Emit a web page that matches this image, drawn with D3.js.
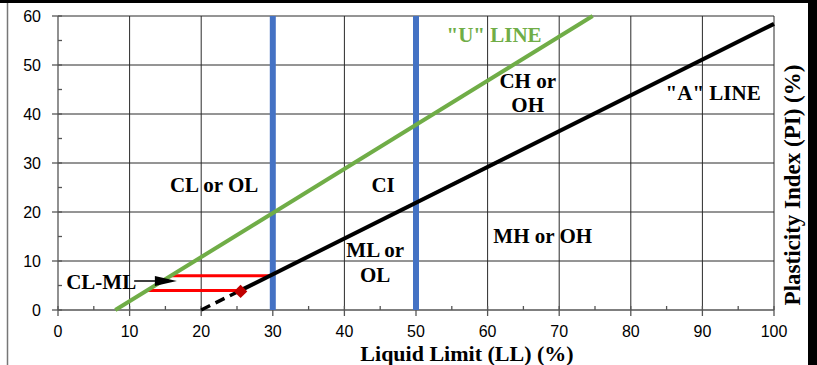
<!DOCTYPE html>
<html>
<head>
<meta charset="utf-8">
<script src="https://cdn.jsdelivr.net/npm/d3@7/dist/d3.min.js"></script>
<style>
  html, body { margin: 0; padding: 0; background: #fff; }
  svg { display: block; }
  .tick-label { font-family: "Liberation Sans", Arial, sans-serif; font-size: 16px; fill: #000; }
  .zone { font-family: "Liberation Serif", "Times New Roman", serif; font-weight: bold; font-size: 21px; fill: #000; }
  .title { font-family: "Liberation Serif", "Times New Roman", serif; font-weight: bold; font-size: 23px; fill: #000; }
</style>
</head>
<body>
<svg id="chart" width="817" height="365"></svg>
<script>
// plasticity chart data (LL %, PI %)
const xTicks = [0, 10, 20, 30, 40, 50, 60, 70, 80, 90, 100];
const yTicks = [0, 10, 20, 30, 40, 50, 60];
const xMinor = [5, 15, 25, 35, 45, 55, 65, 75, 85, 95];
const yMinor = [5, 15, 25, 35, 45, 55];

const uLine = [[8, 0], [74.67, 60]];
const aLineSolid = [[25.5, 4.0], [100, 58.4]];
const aLineDashed = [[20, 0], [25.5, 4.0]];
const limitLL = [30, 50];
// CL-ML band borders: [LL start, LL end, PI]
const clmlBand = [[15.8, 29.6, 7], [12.4, 25.0, 4]];
const samplePoint = [[25.5, 3.8]];

const zoneLabels = [
  { text: "CL or OL", ll: 21.8, pi: 24.1 },
  { text: "CI", ll: 45.4, pi: 24.1 },
  { text: "ML or", ll: 44.3, pi: 10.8 },
  { text: "OL", ll: 44.3, pi: 5.7 },
  { text: "MH or OH", ll: 67.7, pi: 13.7 },
  { text: "CH or", ll: 65.6, pi: 45.3 },
  { text: "OH", ll: 65.6, pi: 40.4 },
  { text: "\"A\" LINE", ll: 91.5, pi: 42.9 }
];
const uLabel = { text: "\"U\" LINE", ll: 60.9, pi: 54.7 };
const clmlArrow = { text: "CL-ML", from: [11.2, 5.9], to: [16.6, 5.9] };

const svg = d3.select("#chart");
const W = 817, H = 365;

const x = d3.scaleLinear().domain([0, 100]).range([58, 774]);
const y = d3.scaleLinear().domain([0, 60]).range([310, 16]);

// frame of the pasted figure
svg.append("rect").attr("x", 0).attr("y", 0).attr("width", W).attr("height", H).attr("fill", "#fff");
svg.append("line").attr("x1", 7.5).attr("x2", 7.5).attr("y1", 0).attr("y2", H)
  .attr("stroke", "#777").attr("stroke-width", 1.5);
svg.append("rect").attr("x", 0).attr("y", 0).attr("width", W).attr("height", 3).attr("fill", "#000");
svg.append("rect").attr("x", 808).attr("y", 0).attr("width", 9).attr("height", H).attr("fill", "#000");

// gridlines
const grid = svg.append("g").attr("stroke", "#2a2a2a").attr("stroke-width", 1);
grid.selectAll(".gx").data(xTicks.slice(1)).join("line")
  .attr("x1", d => x(d)).attr("x2", d => x(d)).attr("y1", y(0)).attr("y2", y(60));
grid.selectAll(".gy").data(yTicks.slice(1)).join("line")
  .attr("x1", x(0)).attr("x2", x(100)).attr("y1", d => y(d)).attr("y2", d => y(d));

// axes
const axisG = svg.append("g").attr("stroke", "#555").attr("stroke-width", 1.3);
axisG.append("line").attr("x1", x(0)).attr("x2", x(0)).attr("y1", y(0)).attr("y2", y(60));
axisG.append("line").attr("x1", x(0)).attr("x2", x(100)).attr("y1", y(0)).attr("y2", y(0));
axisG.selectAll(".ty").data(yTicks).join("line")
  .attr("x1", x(0) - 6).attr("x2", x(0) + 4).attr("y1", d => y(d)).attr("y2", d => y(d));
axisG.selectAll(".tym").data(yMinor).join("line")
  .attr("x1", x(0)).attr("x2", x(0) + 4).attr("y1", d => y(d)).attr("y2", d => y(d));
axisG.selectAll(".tx").data(xTicks).join("line")
  .attr("x1", d => x(d)).attr("x2", d => x(d)).attr("y1", y(0) - 4).attr("y2", y(0) + 6);
axisG.selectAll(".txm").data(xMinor).join("line")
  .attr("x1", d => x(d)).attr("x2", d => x(d)).attr("y1", y(0) - 4).attr("y2", y(0));

svg.selectAll(".xl").data(xTicks).join("text").attr("class", "tick-label")
  .attr("x", d => x(d)).attr("y", 337).attr("text-anchor", "middle").text(d => d);
svg.selectAll(".yl").data(yTicks).join("text").attr("class", "tick-label")
  .attr("x", 41).attr("y", d => y(d) + 6).attr("text-anchor", "end").text(d => d);

const line = d3.line().x(d => x(d[0])).y(d => y(d[1]));

// LL = 30 and LL = 50 limits
svg.selectAll(".ll").data(limitLL).join("line")
  .attr("x1", d => x(d)).attr("x2", d => x(d)).attr("y1", y(0)).attr("y2", y(60))
  .attr("stroke", "#4472C4").attr("stroke-width", 6);

// CL-ML hatch borders
svg.selectAll(".band").data(clmlBand).join("line")
  .attr("x1", d => x(d[0])).attr("x2", d => x(d[1])).attr("y1", d => y(d[2])).attr("y2", d => y(d[2]))
  .attr("stroke", "#FF0000").attr("stroke-width", 3);

svg.append("path").datum(uLine).attr("d", line)
  .attr("fill", "none").attr("stroke", "#70AD47").attr("stroke-width", 4);
svg.append("path").datum(aLineDashed).attr("d", line)
  .attr("fill", "none").attr("stroke", "#000").attr("stroke-width", 3.5).attr("stroke-dasharray", "10,6");
svg.append("path").datum(aLineSolid).attr("d", line)
  .attr("fill", "none").attr("stroke", "#000").attr("stroke-width", 4);

svg.selectAll(".pt").data(samplePoint).join("path")
  .attr("d", d3.symbol().type(d3.symbolSquare).size(90))
  .attr("transform", d => `translate(${x(d[0])},${y(d[1])}) rotate(45)`)
  .attr("fill", "#C00000");

// zone labels
svg.selectAll(".zone").data(zoneLabels).join("text").attr("class", "zone")
  .attr("x", d => x(d.ll)).attr("y", d => y(d.pi)).attr("text-anchor", "middle").text(d => d.text);
svg.append("text").attr("class", "zone").style("fill", "#70AD47")
  .attr("x", x(uLabel.ll)).attr("y", y(uLabel.pi)).attr("text-anchor", "middle").text(uLabel.text);

// CL-ML callout
svg.append("text").attr("class", "zone")
  .attr("x", x(clmlArrow.from[0]) - 2).attr("y", y(clmlArrow.from[1]) + 8)
  .attr("text-anchor", "end").text(clmlArrow.text);
svg.append("line")
  .attr("x1", x(clmlArrow.from[0]) - 4).attr("y1", y(clmlArrow.from[1]))
  .attr("x2", x(clmlArrow.to[0]) - 10).attr("y2", y(clmlArrow.to[1]))
  .attr("stroke", "#000").attr("stroke-width", 1.5);
svg.append("path")
  .attr("d", d3.line()([[x(clmlArrow.to[0]) - 22, y(clmlArrow.to[1]) - 5], [x(clmlArrow.to[0]), y(clmlArrow.to[1])], [x(clmlArrow.to[0]) - 22, y(clmlArrow.to[1]) + 5]]) + "Z")
  .attr("fill", "#000");

// axis titles
svg.append("text").attr("class", "title").style("font-size", "22px")
  .attr("x", 467).attr("y", 361).attr("text-anchor", "middle").text("Liquid Limit (LL) (%)");
svg.append("text").attr("class", "title")
  .attr("transform", "translate(800,185) rotate(-90)").attr("text-anchor", "middle")
  .text("Plasticity Index (PI) (%)");
</script>
</body>
</html>
